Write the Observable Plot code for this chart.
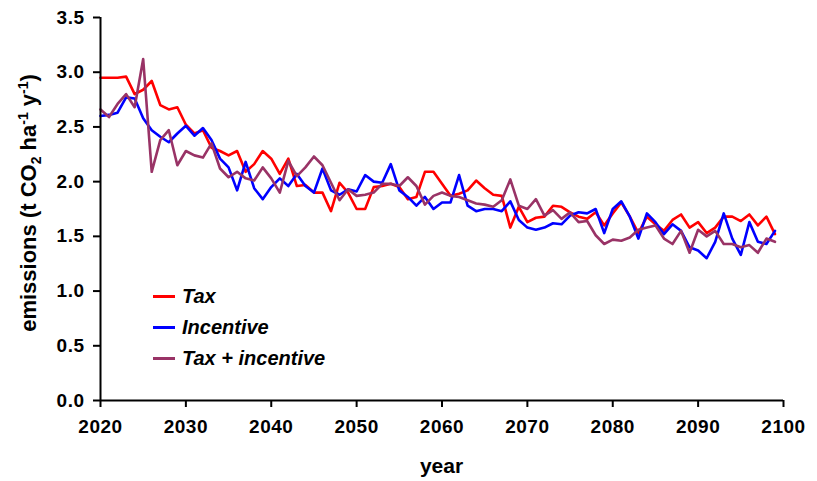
<!DOCTYPE html>
<html>
<head>
<meta charset="utf-8">
<script src="https://cdn.jsdelivr.net/npm/d3@7"></script>
<script src="https://cdn.jsdelivr.net/npm/@observablehq/plot@0.6"></script>
<style>
  html, body { margin: 0; padding: 0; background: #fff; }
  #wrap { position: relative; width: 817px; height: 481px; font-family: "Liberation Sans", Arial, sans-serif; }
  #legend { position: absolute; left: 153px; top: 281px; }
  .row { display: flex; align-items: center; height: 31px; font-weight: bold; font-style: italic; font-size: 20px; color: #000; }
  .sw { display: inline-block; width: 22px; height: 3px; margin-right: 7px; }
</style>
</head>
<body>
<div id="wrap"><div id="legend"></div></div>
<script>
const years = d3.range(2020, 2100);
const seriesNames = ["Tax", "Incentive", "Tax + incentive"];
const seriesColors = ["#ff0000", "#0000ff", "#993366"];
const tax = [2.95,2.95,2.95,2.96,2.80,2.84,2.92,2.70,2.66,2.68,
  2.52,2.44,2.47,2.31,2.28,2.24,2.28,2.09,2.16,2.28,
  2.21,2.07,2.21,1.96,1.97,1.90,1.90,1.73,1.99,1.90,
  1.75,1.75,1.95,1.96,1.98,1.95,1.84,1.86,2.09,2.09,
  1.98,1.87,1.89,1.92,2.01,1.94,1.88,1.87,1.58,1.77,
  1.63,1.67,1.68,1.78,1.77,1.72,1.68,1.66,1.72,1.60,
  1.71,1.81,1.68,1.53,1.68,1.61,1.55,1.65,1.70,1.58,
  1.63,1.53,1.58,1.68,1.68,1.64,1.70,1.60,1.68,1.52];
const incentive = [2.60,2.61,2.63,2.77,2.76,2.58,2.47,2.41,2.36,2.44,
  2.51,2.42,2.49,2.38,2.21,2.13,1.92,2.18,1.94,1.84,
  1.95,2.03,1.96,2.07,1.96,1.90,2.12,1.92,1.88,1.93,
  1.91,2.06,2.00,1.99,2.16,1.92,1.86,1.78,1.86,1.75,
  1.81,1.81,2.06,1.78,1.73,1.75,1.75,1.73,1.82,1.65,
  1.58,1.56,1.58,1.62,1.61,1.69,1.72,1.71,1.75,1.53,
  1.75,1.82,1.68,1.48,1.71,1.63,1.52,1.61,1.55,1.40,
  1.37,1.30,1.45,1.71,1.48,1.33,1.63,1.45,1.43,1.55];
const taxIncentive = [2.66,2.59,2.71,2.80,2.68,3.12,2.09,2.38,2.47,2.15,
  2.28,2.24,2.22,2.35,2.12,2.04,2.09,2.03,2.01,2.13,
  2.03,1.90,2.19,2.05,2.13,2.23,2.15,1.99,1.83,1.93,
  1.87,1.88,1.90,1.98,1.98,1.96,2.04,1.96,1.79,1.87,
  1.90,1.87,1.86,1.83,1.80,1.79,1.77,1.83,2.02,1.78,
  1.75,1.84,1.69,1.74,1.66,1.72,1.63,1.64,1.51,1.43,
  1.47,1.46,1.49,1.56,1.58,1.60,1.48,1.43,1.55,1.35,
  1.56,1.50,1.55,1.43,1.43,1.40,1.42,1.35,1.48,1.45];
const xTicks = [2020, 2030, 2040, 2050, 2060, 2070, 2080, 2090, 2100];
const yTicks = [0, 0.5, 1, 1.5, 2, 2.5, 3, 3.5];

const allSeries = [tax, incentive, taxIncentive];
const data = allSeries.flatMap((vals, i) => vals.map((v, j) => ({year: years[j], value: v, series: seriesNames[i]})));

const chart = Plot.plot({
  width: 817,
  height: 481,
  marginLeft: 100,
  marginRight: 34,
  marginTop: 17,
  marginBottom: 81,
  style: {fontFamily: "'Liberation Sans', Arial, sans-serif", fontSize: "19px", fontWeight: "bold", color: "#000", background: "#fff", letterSpacing: "0.5px"},
  x: {domain: [2020, 2100], ticks: xTicks, tickFormat: "d", tickSize: 7, tickPadding: 12, label: null},
  y: {domain: [0, 3.5], ticks: yTicks, tickFormat: ".1f", tickSize: 7, tickPadding: 9, label: null},
  color: {domain: seriesNames, range: seriesColors},
  marks: [
    Plot.line(data, {x: "year", y: "value", z: "series", stroke: "series", strokeWidth: 2.6, strokeLinejoin: "round"}),
    Plot.ruleX([2020], {stroke: "#000", strokeWidth: 2}),
    Plot.ruleY([0], {stroke: "#000", strokeWidth: 2})
  ]
});

chart.querySelectorAll('[aria-label="x-axis tick"] path, [aria-label="y-axis tick"] path').forEach(p => { p.setAttribute("stroke-width", "2"); p.setAttribute("stroke", "#000"); });

const svg = d3.select(chart);
// y-axis title with sub/superscripts
const yt = svg.append("text")
  .attr("transform", "translate(36,203) rotate(-90)")
  .attr("text-anchor", "middle")
  .attr("font-size", 22)
  .attr("font-weight", "bold")
  .attr("letter-spacing", "0")
  .attr("fill", "#000");
yt.append("tspan").text("emissions (t CO");
yt.append("tspan").attr("font-size", 14).attr("dy", 5).text("2");
yt.append("tspan").attr("dy", -5).text(" ha");
yt.append("tspan").attr("font-size", 14).attr("dy", -8).text("-1");
yt.append("tspan").attr("dy", 8).text(" y");
yt.append("tspan").attr("font-size", 14).attr("dy", -8).text("-1");
yt.append("tspan").attr("dy", 8).text(")");

svg.append("text")
  .attr("x", 441.5).attr("y", 473)
  .attr("text-anchor", "middle")
  .attr("font-size", 21)
  .attr("font-weight", "bold")
  .attr("letter-spacing", "0")
  .attr("fill", "#000")
  .text("year");

document.getElementById("wrap").prepend(chart);

const legend = d3.select("#legend");
seriesNames.forEach((name, i) => {
  const row = legend.append("div").attr("class", "row");
  row.append("span").attr("class", "sw").style("background", seriesColors[i]);
  row.append("span").text(name);
});
</script>
</body>
</html>
